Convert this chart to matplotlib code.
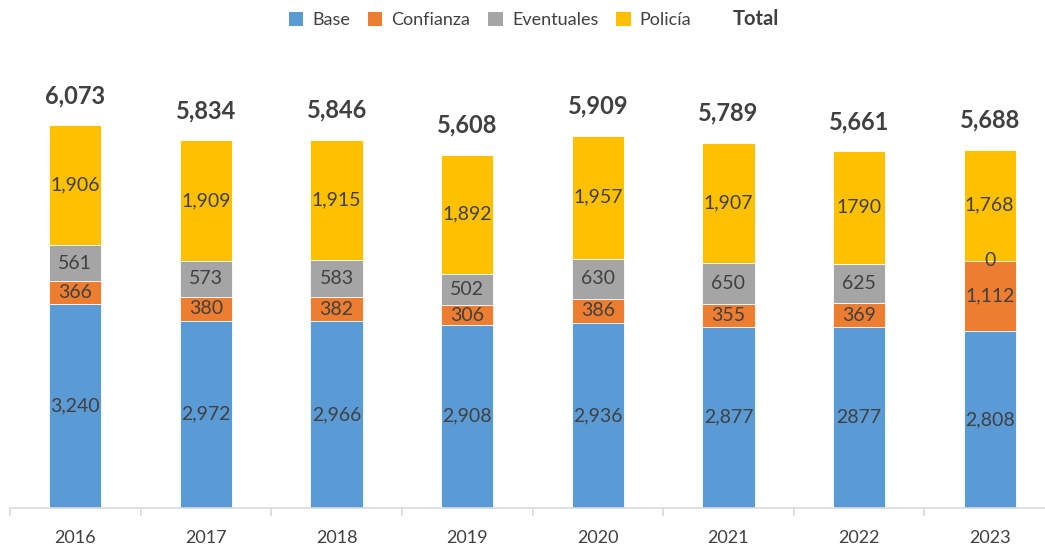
import matplotlib
matplotlib.use("Agg")
import matplotlib.pyplot as plt
from matplotlib.patches import Patch
import numpy as np

years = ["2016", "2017", "2018", "2019", "2020", "2021", "2022", "2023"]
base = [3240, 2972, 2966, 2908, 2936, 2877, 2877, 2808]
confianza = [366, 380, 382, 306, 386, 355, 369, 1112]
eventuales = [561, 573, 583, 502, 630, 650, 625, 0]
policia = [1906, 1909, 1915, 1892, 1957, 1907, 1790, 1768]
totals = [6073, 5834, 5846, 5608, 5909, 5789, 5661, 5688]
series_names = ["Base", "Confianza", "Eventuales", "Policía"]
# years whose labels are printed without thousands separator
plain_years = {"2022"}

colors = ["#5B9BD5", "#ED7D31", "#A5A5A5", "#FFC000"]
text_color = "#404040"

plt.rcParams["font.family"] = ["Lato", "DejaVu Sans"]

fig = plt.figure(figsize=(10.45, 5.48), dpi=100)
ax = fig.add_axes([10 / 1045, 40 / 548, 1045 / 1045, 508 / 548])

x = np.arange(len(years))
width = 0.4
bottom = np.zeros(len(years))
for name, vals, col in zip(series_names, [base, confianza, eventuales, policia], colors):
    vals = np.array(vals, dtype=float)
    ax.bar(x, vals, width, bottom=bottom, color=col, edgecolor="white",
           linewidth=0.6, label=name)
    for i, v in enumerate(vals):
        lab = f"{int(v)}" if years[i] in plain_years else f"{int(v):,}"
        ax.text(x[i], bottom[i] + v / 2, lab, ha="center", va="center",
                fontsize=14, color=text_color)
    bottom += vals

# totals sit above each stack
for i, t in enumerate(totals):
    ax.annotate(f"{t:,}", (x[i], bottom[i]), xytext=(0, 16),
                textcoords="offset points", ha="center", va="baseline",
                fontsize=17, fontweight="bold", color=text_color)

ax.set_xlim(-0.5, len(years) - 0.5)
ax.set_ylim(0, 8060)
for s in ["top", "right", "left"]:
    ax.spines[s].set_visible(False)
ax.spines["bottom"].set_color("#D9D9D9")
ax.spines["bottom"].set_linewidth(1.2)
ax.set_yticks([])
ax.set_xticks(x)
ax.set_xticklabels(years, fontsize=13, color=text_color)
ax.tick_params(axis="x", which="major", length=0, pad=16)
ax.set_xticks(np.arange(-0.5, len(years), 1.0), minor=True)
ax.tick_params(axis="x", which="minor", length=6, color="#D9D9D9", width=1.2)

handles = [Patch(facecolor=c, edgecolor="none") for c in colors]
handles.append(Patch(facecolor="none", edgecolor="none"))
labels = series_names + ["Total"]
leg = fig.legend(handles, labels, loc="center", bbox_to_anchor=(534 / 1045, 1 - 19 / 548),
                 ncol=5, frameon=False, fontsize=13, handlelength=0.8,
                 handleheight=0.8, handletextpad=0.5, columnspacing=1.0)
for t in leg.get_texts():
    t.set_color(text_color)
leg.get_texts()[-1].set_fontweight("bold")
leg.get_texts()[-1].set_fontsize(14.5)

fig.savefig("out.png", dpi=100)
